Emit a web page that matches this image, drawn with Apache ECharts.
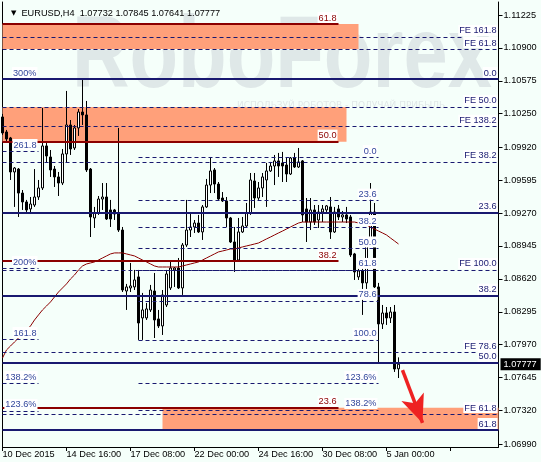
<!DOCTYPE html>
<html><head><meta charset="utf-8">
<script src="https://cdn.jsdelivr.net/npm/echarts@6/dist/echarts.min.js"></script>
<style>html,body{margin:0;padding:0;background:#F5FFFA}#c{width:541px;height:462px}</style>
</head><body><div id="c"></div>
<script>
const symbolName = 'EURUSD,H4';
const opens  = [1.10218,1.10070,1.10011,1.09675,1.09704,1.09467,1.09379,1.09310,1.09349,1.09428,
1.09517,1.09932,1.09823,1.09704,1.09626,1.09566,1.09853,1.10139,1.09912,1.10110,
1.10267,1.10238,1.09704,1.09221,1.09270,1.09408,1.09428,1.09300,1.09300,1.09270,
1.09102,1.08500,1.08530,1.08540,1.08639,1.08234,1.08234,1.08313,1.08500,1.08224,
1.08155,1.08362,1.08530,1.08708,1.08727,1.08530,1.08954,1.09102,1.09132,1.09171,
1.09083,1.09330,1.09546,1.09695,1.09556,1.09418,1.09389,1.09221,1.08984,1.08806,
1.09083,1.09142,1.09270,1.09586,1.09418,1.09517,1.09596,1.09685,1.09734,1.09784,
1.09764,1.09744,1.09655,1.09813,1.09724,1.09784,1.09310,1.09181,1.09300,1.09201,
1.09280,1.09300,1.09330,1.09083,1.09310,1.09231,1.09251,1.09231,1.08866,1.08639,
1.08698,1.08580,1.08974,1.09280,1.08540,1.08175,1.08283,1.08234,1.08293,1.07732];
const closes = [1.10060,1.10001,1.09675,1.09714,1.09467,1.09379,1.09300,1.09359,1.09428,1.09517,
1.09932,1.09833,1.09695,1.09626,1.09566,1.09853,1.10139,1.09902,1.10110,1.10267,
1.10238,1.09695,1.09231,1.09270,1.09408,1.09428,1.09211,1.09211,1.09260,1.09102,
1.08510,1.08540,1.08550,1.08609,1.08184,1.08313,1.08323,1.08510,1.08214,1.08155,
1.08461,1.08668,1.08727,1.08727,1.08530,1.08954,1.09102,1.09132,1.09171,1.09083,
1.09330,1.09546,1.09685,1.09556,1.09408,1.09389,1.09221,1.08984,1.08806,1.09083,
1.09142,1.09270,1.09596,1.09418,1.09517,1.09626,1.09685,1.09734,1.09784,1.09734,
1.09734,1.09655,1.09813,1.09724,1.09774,1.09251,1.09181,1.09300,1.09181,1.09280,
1.09310,1.09340,1.09083,1.09280,1.09231,1.09251,1.09211,1.08856,1.08688,1.08698,
1.08580,1.08974,1.09280,1.08540,1.08175,1.08283,1.08234,1.08293,1.07730,1.07777];
const lows   = [1.10041,1.09981,1.09596,1.09330,1.09231,1.09300,1.09270,1.09260,1.09330,1.09399,
1.09497,1.09764,1.09626,1.09527,1.09438,1.09546,1.09764,1.09843,1.09892,1.10031,
1.10139,1.09675,1.09033,1.09122,1.09251,1.09300,1.09201,1.09132,1.09201,1.09083,
1.08490,1.08313,1.08490,1.08510,1.08017,1.08017,1.08214,1.08293,1.08036,1.08135,
1.08066,1.08342,1.08510,1.08540,1.08520,1.08461,1.08935,1.09033,1.09073,1.09073,
1.09004,1.09320,1.09467,1.09467,1.09399,1.09379,1.09132,1.08974,1.08688,1.08787,
1.09073,1.09132,1.09251,1.09320,1.09399,1.09428,1.09330,1.09675,1.09546,1.09626,
1.09576,1.09576,1.09645,1.09714,1.09714,1.09181,1.08984,1.09102,1.09152,1.09122,
1.09181,1.09280,1.09014,1.09073,1.09201,1.09181,1.09171,1.08836,1.08609,1.08609,
1.08264,1.08441,1.08935,1.08530,1.07799,1.08125,1.08165,1.08184,1.07701,1.07641];
const highs  = [1.10248,1.10090,1.10021,1.09724,1.09714,1.09497,1.09399,1.09428,1.09704,1.09596,
1.10307,1.09961,1.09892,1.09734,1.09675,1.09902,1.10475,1.10188,1.10139,1.10297,
1.10583,1.10376,1.09714,1.09330,1.09438,1.09566,1.09566,1.09399,1.09310,1.10110,
1.09132,1.08570,1.08777,1.08708,1.08708,1.08481,1.08382,1.08560,1.08678,1.08313,
1.08510,1.08708,1.08806,1.08737,1.08826,1.08974,1.09399,1.09280,1.09201,1.09251,
1.09349,1.09606,1.09823,1.09714,1.09576,1.09477,1.09428,1.09231,1.09132,1.09221,
1.09231,1.09369,1.09665,1.09665,1.09576,1.09665,1.09764,1.09774,1.09843,1.09863,
1.09873,1.09813,1.09823,1.09863,1.09912,1.09793,1.09418,1.09418,1.09349,1.09349,
1.09349,1.09349,1.09428,1.09330,1.09349,1.09290,1.09330,1.09251,1.08876,1.08757,
1.08727,1.09004,1.09566,1.09369,1.08580,1.08362,1.08342,1.08342,1.08362,1.07845];
const maValues = [1.07839,1.07918,1.07957,1.07997,1.08036,1.08066,1.08115,1.08155,1.08214,1.08264,
1.08313,1.08352,1.08392,1.08441,1.08490,1.08530,1.08570,1.08619,1.08658,1.08708,
1.08747,1.08767,1.08777,1.08787,1.08806,1.08826,1.08846,1.08866,1.08876,1.08876,
1.08876,1.08866,1.08856,1.08846,1.08826,1.08806,1.08787,1.08767,1.08747,1.08737,
1.08737,1.08737,1.08737,1.08737,1.08737,1.08747,1.08757,1.08767,1.08777,1.08787,
1.08806,1.08826,1.08846,1.08866,1.08886,1.08895,1.08905,1.08915,1.08915,1.08925,
1.08935,1.08945,1.08954,1.08964,1.08974,1.08994,1.09014,1.09033,1.09053,1.09073,
1.09092,1.09112,1.09132,1.09152,1.09171,1.09181,1.09181,1.09181,1.09181,1.09181,
1.09181,1.09181,1.09181,1.09181,1.09181,1.09181,1.09181,1.09181,1.09181,1.09171,
1.09161,1.09152,1.09132,1.09112,1.09092,1.09073,1.09053,1.09023,1.08994,1.08964];

const yTickValues = [1.11225,1.10900,1.10575,1.10250,1.09920,1.09595,1.09270,1.08945,1.08620,1.08295,1.07970,1.07645,1.07320,1.06990];
const xTickLabels = ['10 Dec 2015','14 Dec 16:00','17 Dec 08:00','22 Dec 00:00','24 Dec 16:00','30 Dec 08:00','5 Jan 00:00'];
const xTickEvery = 16;
const totalSlots = 125;
const yMin = 1.06960, yMax = 1.11353;

const feLevels = [['FE 161.8',1.11008],['FE 61.8',1.10889],['FE 50.0',1.10317],['FE 138.2',1.10122],['FE 38.2',1.09774],['FE 100.0',1.08708],['FE 78.6',1.07898],['FE 61.8',1.07286]];
const blueFiboLevels = [['0.0',1.10593],['23.6',1.09273],['38.2',1.08454],['50.0',1.07792],['61.8',1.07128]];
const redFiboLevels = [['61.8',1.11136],['50.0',1.09974],['38.2',1.08796],['23.6',1.07348]];
const leftFiboLevels = [['300%',1.10593],['261.8',1.09882],['200%',1.08727],['161.8',1.08026],['138.2%',1.07592],['123.6%',1.07316]];
const midFiboLevels = [['0.0',1.09823],['23.6',1.09392],['38.2',1.09132],['50.0',1.08920],['61.8',1.08708],['78.6',1.08402],['100.0',1.08017],['123.6%',1.07592],['138.2%',1.07326]];
const zones = [[0,89,1.11136,1.10889],[0,86,1.10317,1.09974],[40,124,1.07348,1.07128]];
const arrowFrom = [100.4,1.07720], arrowTo = [104.6,1.07197];

const SPAN_FULL=[0,124], SPAN_RED=[0,84], SPAN_LEFT=[0,9], SPAN_MID=[34,94];
const FONT = '"Liberation Sans", Arial, sans-serif';
const FS = 9.2;
const NAVY = '#191970', BLUE = '#33479c', MAROON = '#8b0000';

// bar times (H4, skipping weekends and market holidays)
const barStart = Date.UTC(2015,11,10,0,0);
const holidays = ['2015-12-25','2016-01-01'];
const MON = ['Jan','Feb','Mar','Apr','May','Jun','Jul','Aug','Sep','Oct','Nov','Dec'];
const categories = [];
for (let t = barStart; categories.length < totalSlots; t += 4*3600e3) {
  const d = new Date(t), wd = d.getUTCDay(), key = d.toISOString().slice(0,10);
  if (wd===0 || wd===6 || holidays.includes(key)) continue;
  categories.push(d.getUTCDate()+' '+MON[d.getUTCMonth()]+' '+String(d.getUTCHours()).padStart(2,'0')+':00');
}
const candleData = opens.map((o,i)=>[o, closes[i], lows[i], highs[i]]);
const last = candleData.length-1;

function levelLine(text, price, span, st){
  return [{coord:[span[0], price], lineStyle:{color:st.color, width:st.width, type:st.type},
    label:{show:true, formatter:text, position:'insideEndTop', distance:[1,1], color:st.labelColor,
      fontSize:FS, fontFamily:FONT, backgroundColor:'#ffffff', padding:[1,1,0,1], lineHeight:10}},
    {coord:[span[1], price]}];
}
const dashed = {color:NAVY, width:1, type:[4,3], labelColor:NAVY};
const dashedBlue = {color:NAVY, width:1, type:[4,3], labelColor:BLUE};
const solidNavy = {color:NAVY, width:2, type:'solid', labelColor:NAVY};
const solidRed = {color:MAROON, width:2, type:'solid', labelColor:MAROON};

const lineItems = [].concat(
  feLevels.map(l=>levelLine(l[0], l[1], SPAN_FULL, dashed)),
  midFiboLevels.map(l=>levelLine(l[0], l[1], SPAN_MID, dashedBlue)),
  blueFiboLevels.map(l=>levelLine(l[0], l[1], SPAN_FULL, solidNavy)),
  redFiboLevels.map(l=>levelLine(l[0], l[1], SPAN_RED, solidRed)),
  leftFiboLevels.map(l=>levelLine(l[0], l[1], SPAN_LEFT, dashedBlue))
);

const chart = echarts.init(document.getElementById('c'));
chart.setOption({
  animation:false,
  backgroundColor:'#F5FFFA',
  title:{
    text:'{t|▼}  '+symbolName+'  '+[opens[last],highs[last],lows[last],closes[last]].map(v=>v.toFixed(5)).join(' '),
    left:6, top:4,
    textStyle:{fontSize:FS, fontWeight:'normal', fontFamily:FONT, color:'#000',
      rich:{t:{fontSize:7, fontFamily:'DejaVu Sans', color:'#000'}}}
  },
  graphic:[
    {type:'text', x:72, y:8, scaleX:0.78, z:-10, silent:true,
      style:{text:'RoboForex', fontSize:102, fontWeight:'bold', fontFamily:'Liberation Sans', fill:'#dfe8e8'}},
    {type:'text', x:237, y:101, z:-10, silent:true,
      style:{text:'ИСПОЛЬЗУЙ РОБОТОВ - ПОЛУЧАЙ ПРИБЫЛЬ', fontSize:9, fontFamily:'DejaVu Sans', fill:'#e0e8e8'}}
  ],
  grid:{left:2.5, right:42.5, top:2, bottom:15, outerBoundsMode:'none'},
  xAxis:{
    type:'category', data:categories, boundaryGap:false,
    axisLine:{show:true, lineStyle:{color:'#000', width:1}},
    axisTick:{show:true, length:4, interval:(i)=>i%xTickEvery===0, lineStyle:{color:'#000'}},
    axisLabel:{interval:(i)=>i%xTickEvery===0, formatter:(v,i)=>xTickLabels[i/xTickEvery]||'',
      align:'left', margin:3, fontSize:FS, fontFamily:FONT, color:'#000', hideOverlap:false},
    splitLine:{show:false}
  },
  yAxis:[
    {type:'value', position:'right', min:yMin, max:yMax, scale:true,
      axisLine:{show:true, lineStyle:{color:'#000'}},
      axisTick:{show:true, length:4, customValues:yTickValues, lineStyle:{color:'#000'}},
      axisLabel:{customValues:yTickValues, formatter:v=>v.toFixed(5), margin:5, fontSize:FS, fontFamily:FONT, color:'#000'},
      splitLine:{show:false}},
    {type:'value', position:'right', min:yMin, max:yMax, scale:true,
      axisLine:{show:false}, axisTick:{show:false}, splitLine:{show:false},
      axisLabel:{customValues:[closes[last]], formatter:v=>v.toFixed(5), margin:2, fontSize:FS, fontFamily:FONT,
        color:'#fff', backgroundColor:'#000', padding:[2,4,1,3]}},
    {type:'value', position:'left', min:yMin, max:yMax, scale:true,
      axisLine:{show:true, lineStyle:{color:'#000'}}, axisTick:{show:false}, axisLabel:{show:false}, splitLine:{show:false}}
  ],
  series:[
    {type:'line', name:'zones', data:[], z:1, silent:true,
      markArea:{silent:true, itemStyle:{color:'#FFA07A'},
        data:zones.map(z=>[{coord:[z[0], z[2]]},{coord:[z[1], z[3]]}])}},
    {type:'line', name:'levels', data:[], z:2, silent:true,
      markLine:{silent:true, symbol:['none','none'], animation:false, emphasis:{disabled:true}, data:lineItems}},
    {type:'candlestick', name:symbolName, data:candleData, z:3, barWidth:2,
      itemStyle:{color:'#ffffff', color0:'#000000', borderColor:'#000000', borderColor0:'#000000', borderWidth:1}},
    {type:'line', name:'MA', data:maValues, z:4, symbol:'none', silent:true,
      lineStyle:{color:MAROON, width:1}},
    {type:'line', name:'arrow', data:[], z:5, silent:true,
      markLine:{silent:true, symbol:['none','arrow'], symbolSize:[18,28], animation:false,
        lineStyle:{color:'#ee2222', width:3.5, type:'solid'}, label:{show:false},
        data:[[{coord:arrowFrom},{coord:arrowTo}]]}}
  ]
});
</script>
</body></html>
